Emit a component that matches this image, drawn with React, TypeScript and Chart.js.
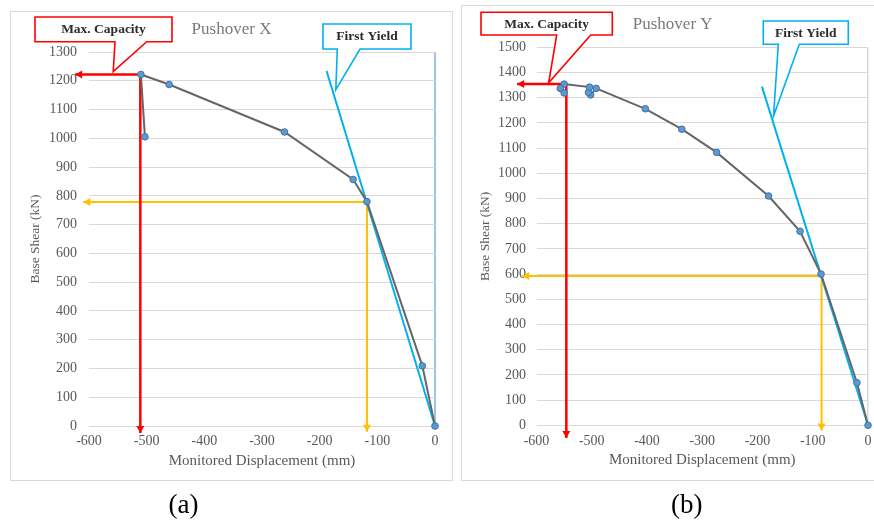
import React, { useEffect, useRef } from "react";
import { Chart, registerables } from "chart.js";

Chart.register(...registerables);

const SERIF = '"Liberation Serif", "Times New Roman", Times, serif';
const PAGE_W = 874;
const PAGE_H = 524;

// ---------------- Panel (a): Pushover X ----------------
const dispX = [0, -22, -118, -142, -261, -461, -510, -503];
const shearX = [0, 209, 780, 857, 1022, 1187, 1222, 1005];
const yieldLineDispX = [0, -188];
const yieldLineShearX = [0, 1234];
const capDownDispX = [-511, -511];
const capDownShearX = [1222, -24];
const capLeftDispX = [-511, -624];
const capLeftShearX = [1222, 1222];
const yldLeftDispX = [-118, -610];
const yldLeftShearX = [779, 779];
const yldDownDispX = [-118, -118];
const yldDownShearX = [779, -20];
const capTipX = [-558, 1232];
const yldTipX = [-172, 1169];
const yMaxX = 1300;

// ---------------- Panel (b): Pushover Y ----------------
const dispY = [0, -20, -85, -123, -180, -274, -337, -403, -492, -502, -506, -504, -550, -557, -550];
const shearY = [0, 169, 600, 770, 910, 1083, 1175, 1256, 1337, 1311, 1321, 1342, 1354, 1337, 1319];
const yieldLineDispY = [0, -192];
const yieldLineShearY = [0, 1344];
const capDownDispY = [-546, -546];
const capDownShearY = [1354, -50];
const capLeftDispY = [-546, -635];
const capLeftShearY = [1354, 1354];
const yldLeftDispY = [-84, -626];
const yldLeftShearY = [592, 592];
const yldDownDispY = [-84, -84];
const yldDownShearY = [592, -21];
const capTipY = [-578, 1359];
const yldTipY = [-171, 1227];
const yMaxY = 1500;

// shared axis settings
const xMin = -600;
const xMax = 0;
const tickStep = 100;
const xAxisTitle = "Monitored Displacement (mm)";
const yAxisTitle = "Base Shear (kN)";

const pts = (xs: number[], ys: number[]) => xs.map((x, i) => ({ x, y: ys[i] }));

type Callout = {
  text: string;
  color: string;
  box: [number, number, number, number];
  legs: [number, number];
  tip: number[];
};

type PanelCfg = {
  title: string;
  titlePos: [number, number];
  caption: string;
  captionPos: [number, number];
  frame: [number, number, number, number];
  padding: { left: number; top: number; right: number; bottom: number };
  yAxisWidth: number;
  xAxisHeight: number;
  yMax: number;
  yTickPad: number;
  xTickOffset: number;
  yTitlePad: number;
  xTitlePad: number;
  zeroColor: string;
  zeroWidth: number;
  curve: { x: number; y: number }[];
  yieldLine: { x: number; y: number }[];
  red: { x: number; y: number }[][];
  yellow: { x: number; y: number }[][];
  callouts: Callout[];
};

const panelA: PanelCfg = {
  title: "Pushover X",
  titlePos: [231.5, 30],
  caption: "(a)",
  captionPos: [183.5, 506],
  frame: [10.5, 11.5, 452.5, 480.5],
  padding: { left: 0, top: 52, right: PAGE_W - 435, bottom: 0 },
  yAxisWidth: 89,
  xAxisHeight: PAGE_H - 426,
  yMax: yMaxX,
  yTickPad: 12,
  xTickOffset: 15.7,
  yTitlePad: 35 - 8.1,
  xTitlePad: 54,
  zeroColor: "#9dc3e6",
  zeroWidth: 2,
  curve: pts(dispX, shearX),
  yieldLine: pts(yieldLineDispX, yieldLineShearX),
  red: [pts(capDownDispX, capDownShearX), pts(capLeftDispX, capLeftShearX)],
  yellow: [pts(yldLeftDispX, yldLeftShearX), pts(yldDownDispX, yldDownShearX)],
  callouts: [
    { text: "Max. Capacity", color: "#ff0000", box: [35, 17, 172, 41.7], legs: [115, 146.7], tip: capTipX },
    { text: "First Yield", color: "#00b0f0", box: [323, 24, 411, 49], legs: [337.3, 360], tip: yldTipX },
  ],
};

const panelB: PanelCfg = {
  title: "Pushover Y",
  titlePos: [672.7, 24.5],
  caption: "(b)",
  captionPos: [686.7, 506],
  frame: [461.5, 5.5, 900, 480.5],
  padding: { left: 460, top: 47.3, right: PAGE_W - 868, bottom: 0 },
  yAxisWidth: 76.5,
  xAxisHeight: PAGE_H - 425.3,
  yMax: yMaxY,
  yTickPad: 10.5,
  xTickOffset: 16.4,
  yTitlePad: 25 - 8.1,
  xTitlePad: 55,
  zeroColor: "#d9d9d9",
  zeroWidth: 1.5,
  curve: pts(dispY, shearY),
  yieldLine: pts(yieldLineDispY, yieldLineShearY),
  red: [pts(capDownDispY, capDownShearY), pts(capLeftDispY, capLeftShearY)],
  yellow: [pts(yldLeftDispY, yldLeftShearY), pts(yldDownDispY, yldDownShearY)],
  callouts: [
    { text: "Max. Capacity", color: "#ff0000", box: [481, 12.3, 612.3, 35], legs: [556.7, 590.7], tip: capTipY },
    { text: "First Yield", color: "#00b0f0", box: [763.3, 21, 848.3, 44.3], legs: [778.3, 799.3], tip: yldTipY },
  ],
};

function decorPlugin(cfg: PanelCfg) {
  return {
    id: "decor",
    beforeDraw(chart: any) {
      const ctx = chart.ctx;
      ctx.save();
      const [l, t, r, b] = cfg.frame;
      ctx.strokeStyle = "#d9d9d9";
      ctx.lineWidth = 1;
      ctx.strokeRect(l, t, r - l, b - t);
      ctx.restore();
    },
    afterDatasetsDraw(chart: any) {
      const ctx = chart.ctx;
      ctx.save();
      chart.data.datasets.forEach((ds: any, i: number) => {
        if (!ds.arrowColor) return;
        const meta = chart.getDatasetMeta(i);
        const n = meta.data.length;
        const p1 = meta.data[n - 2];
        const p2 = meta.data[n - 1];
        const ang = Math.atan2(p2.y - p1.y, p2.x - p1.x);
        const len = 7;
        const hw = 4;
        ctx.fillStyle = ds.arrowColor;
        ctx.beginPath();
        ctx.moveTo(p2.x, p2.y);
        ctx.lineTo(p2.x - len * Math.cos(ang) + hw * Math.sin(ang), p2.y - len * Math.sin(ang) - hw * Math.cos(ang));
        ctx.lineTo(p2.x - len * Math.cos(ang) - hw * Math.sin(ang), p2.y - len * Math.sin(ang) + hw * Math.cos(ang));
        ctx.closePath();
        ctx.fill();
      });
      ctx.restore();
    },
    afterDraw(chart: any) {
      const ctx = chart.ctx;
      const xs = chart.scales.x;
      const ys = chart.scales.y;
      ctx.save();
      // chart title
      ctx.fillStyle = "#7a7a7a";
      ctx.font = `17px ${SERIF}`;
      ctx.textAlign = "center";
      ctx.textBaseline = "middle";
      ctx.fillText(cfg.title, cfg.titlePos[0], cfg.titlePos[1]);
      // callouts
      cfg.callouts.forEach((c) => {
        const [x1, y1, x2, y2] = c.box;
        const tx = xs.getPixelForValue(c.tip[0]);
        const ty = ys.getPixelForValue(c.tip[1]);
        ctx.beginPath();
        ctx.moveTo(x1, y1);
        ctx.lineTo(x2, y1);
        ctx.lineTo(x2, y2);
        ctx.lineTo(c.legs[1], y2);
        ctx.lineTo(tx, ty);
        ctx.lineTo(c.legs[0], y2);
        ctx.lineTo(x1, y2);
        ctx.closePath();
        ctx.fillStyle = "#ffffff";
        ctx.fill();
        ctx.strokeStyle = c.color;
        ctx.lineWidth = 1.6;
        ctx.lineJoin = "miter";
        ctx.stroke();
        ctx.fillStyle = "#2b2b2b";
        ctx.font = `bold 13.5px ${SERIF}`;
        ctx.fillText(c.text, (x1 + x2) / 2, (y1 + y2) / 2 + 0.5);
      });
      // caption
      ctx.fillStyle = "#000000";
      ctx.font = `27px ${SERIF}`;
      ctx.fillText(cfg.caption, cfg.captionPos[0], cfg.captionPos[1]);
      ctx.restore();
    },
  };
}

function buildConfig(cfg: PanelCfg): any {
  const tickFont = { family: SERIF, size: 14 };
  const lineDs = (data: any, color: string, width: number, arrow: boolean) => ({
    data,
    showLine: true,
    borderColor: color,
    borderWidth: width,
    pointRadius: 0,
    pointHoverRadius: 0,
    clip: false,
    arrowColor: arrow ? color : undefined,
  });
  return {
    type: "scatter",
    data: {
      datasets: [
        {
          label: cfg.title,
          data: cfg.curve,
          showLine: true,
          borderColor: "#666666",
          borderWidth: 2,
          pointRadius: 3.3,
          pointHoverRadius: 3.3,
          pointBackgroundColor: "#5b9bd5",
          pointBorderColor: "#41719c",
          pointBorderWidth: 1,
          clip: false,
        },
        lineDs(cfg.yieldLine, "#00b0f0", 2, false),
        lineDs(cfg.red[0], "#ff0000", 2.5, true),
        lineDs(cfg.red[1], "#ff0000", 2.5, true),
        lineDs(cfg.yellow[0], "#ffc000", 2, true),
        lineDs(cfg.yellow[1], "#ffc000", 2, true),
      ],
    },
    options: {
      responsive: false,
      animation: false,
      devicePixelRatio: 1,
      events: [],
      layout: { padding: cfg.padding },
      plugins: {
        legend: { display: false },
        tooltip: { enabled: false },
        title: { display: false },
      },
      scales: {
        x: {
          type: "linear",
          position: "bottom",
          min: xMin,
          max: xMax,
          ticks: {
            stepSize: tickStep,
            autoSkip: false,
            maxRotation: 0,
            padding: 0,
            color: "#595959",
            font: { ...tickFont, lineHeight: `${2 * cfg.xTickOffset}px` },
            callback: (v: any) => String(v),
          },
          grid: {
            drawTicks: false,
            color: (c: any) => (c.tick && c.tick.value === 0 ? cfg.zeroColor : "rgba(0,0,0,0)"),
            lineWidth: (c: any) => (c.tick && c.tick.value === 0 ? cfg.zeroWidth : 0),
          },
          border: { display: false },
          title: {
            display: true,
            text: xAxisTitle,
            color: "#595959",
            font: { family: SERIF, size: 15 },
            padding: { top: 0, bottom: cfg.xTitlePad },
          },
          afterFit: (s: any) => {
            s.height = cfg.xAxisHeight;
          },
        },
        y: {
          type: "linear",
          position: "left",
          min: 0,
          max: cfg.yMax,
          ticks: {
            stepSize: tickStep,
            autoSkip: false,
            padding: cfg.yTickPad,
            color: "#595959",
            font: tickFont,
            callback: (v: any) => String(v),
          },
          grid: { drawTicks: false, color: "#d9d9d9", lineWidth: 1 },
          border: { display: false },
          title: {
            display: true,
            text: yAxisTitle,
            color: "#595959",
            font: { family: SERIF, size: 13.5 },
            padding: { top: cfg.yTitlePad, bottom: 0 },
          },
          afterFit: (s: any) => {
            s.width = cfg.yAxisWidth;
          },
        },
      },
    },
    plugins: [decorPlugin(cfg)],
  };
}

function Panel({ cfg }: { cfg: PanelCfg }) {
  const ref = useRef<HTMLCanvasElement | null>(null);
  useEffect(() => {
    if (!ref.current) return;
    const chart = new Chart(ref.current, buildConfig(cfg));
    return () => chart.destroy();
  }, [cfg]);
  return (
    <canvas
      ref={ref}
      width={PAGE_W}
      height={PAGE_H}
      style={{ position: "absolute", left: 0, top: 0, width: PAGE_W, height: PAGE_H }}
    />
  );
}

export default function App() {
  return (
    <div
      style={{
        position: "fixed",
        left: 0,
        top: 0,
        width: PAGE_W,
        height: PAGE_H,
        overflow: "hidden",
        background: "#ffffff",
      }}
    >
      <Panel cfg={panelA} />
      <Panel cfg={panelB} />
    </div>
  );
}
